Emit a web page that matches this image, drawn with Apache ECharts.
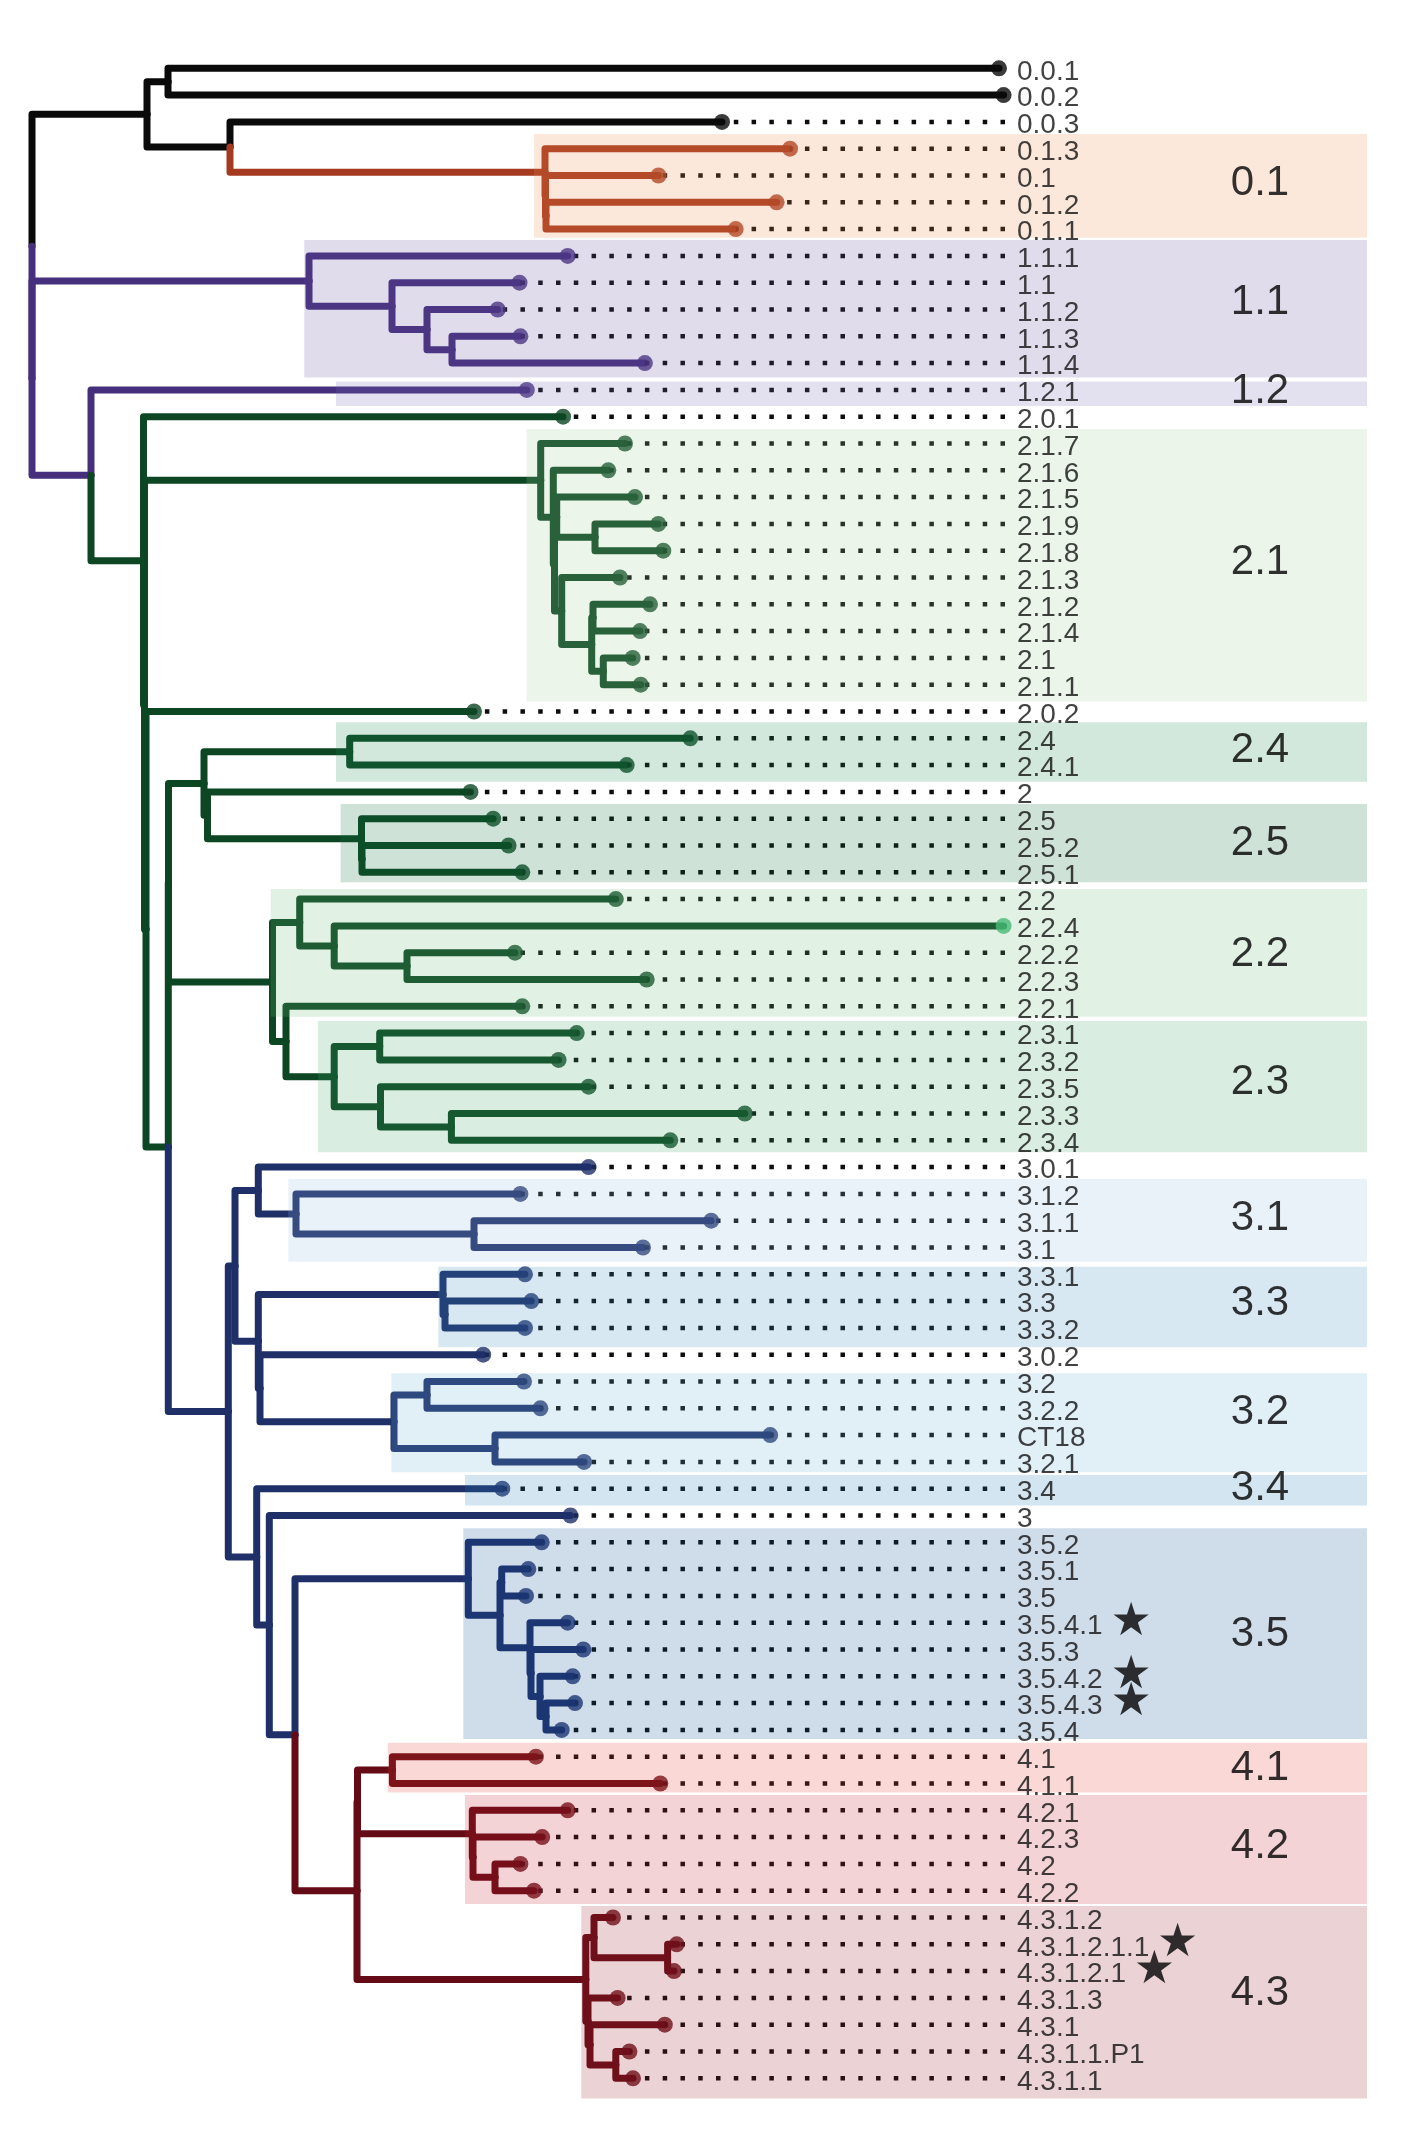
<!DOCTYPE html>
<html><head><meta charset="utf-8">
<script src="https://cdn.jsdelivr.net/npm/echarts@6/dist/echarts.min.js"></script>
<style>html,body{margin:0;padding:0;background:#fff}#c{width:1423px;height:2141px}</style>
</head><body><div id="c"></div>
<script>
// ---------- DATA ----------
const leafNames = ['0.0.1','0.0.2','0.0.3','0.1.3','0.1','0.1.2','0.1.1','1.1.1','1.1','1.1.2','1.1.3','1.1.4','1.2.1','2.0.1','2.1.7','2.1.6','2.1.5','2.1.9','2.1.8','2.1.3','2.1.2','2.1.4','2.1','2.1.1','2.0.2','2.4','2.4.1','2','2.5','2.5.2','2.5.1','2.2','2.2.4','2.2.2','2.2.3','2.2.1','2.3.1','2.3.2','2.3.5','2.3.3','2.3.4','3.0.1','3.1.2','3.1.1','3.1','3.3.1','3.3','3.3.2','3.0.2','3.2','3.2.2','CT18','3.2.1','3.4','3','3.5.2','3.5.1','3.5','3.5.4.1','3.5.3','3.5.4.2','3.5.4.3','3.5.4','4.1','4.1.1','4.2.1','4.2.3','4.2','4.2.2','4.3.1.2','4.3.1.2.1.1','4.3.1.2.1','4.3.1.3','4.3.1','4.3.1.1.P1','4.3.1.1'];
// tip depth (distance from root, chart units)
const tipDepth = [967,971.6,690,758,626.5,744.6,703.7,535.7,487.5,465.7,488.4,612.9,494.8,531.1,593,576.3,603,626.3,631.3,588,618,608,600.7,608.7,442,658.3,594.7,438.5,461.2,476.6,490.3,583.8,971.6,483,614.7,490.3,544.7,526.6,556.6,712.8,638.3,556.6,488.4,679.2,611,493,499.3,493,451.2,492,508.4,738.2,552,470.3,538.4,509.7,496.3,494,535.7,551.3,540.7,543,529.7,503.9,628.3,535.7,510.2,488.4,502,581,644.7,642,585.6,632.8,597.4,601];
// topology (newick-like; number after ")" = depth of that internal node)
const tree0 = "((0.0.1,0.0.2)136,(0.0.3,(0.1.3,(0.1,(0.1.2,0.1.1)514)513.5)513)198)115";
const tree11 = "(1.1.1,(1.1,(1.1.2,(1.1.3,1.1.4)420)395)360)277";
const tree21 = "(2.1.7,(2.1.6,((2.1.5,(2.1.9,2.1.8)563)524.7,(2.1.3,((2.1.2,2.1.4)561,(2.1,2.1.1)571.3)559.7)529.7)522.5)521.3)508.7";
const tree24_25 = "((2.4,2.4.1)317.7,(2,(2.5,(2.5.2,2.5.1)330)329.5)175.5)172";
const tree22_23 = "((2.2,(2.2.4,(2.2.2,2.2.3)375)302.2)267.7,(2.2.1,((2.3.1,2.3.2)347.7,(2.3.5,(2.3.3,2.3.4)419.4)348.5)302.2)254)240.5";
const tree3a = "((3.0.1,(3.1.2,(3.1.1,3.1)442)264)226.3,((3.3.1,(3.3,3.3.2)413)411,(3.0.2,((3.2,3.2.2)395,(CT18,3.2.1)463)362)228)226.3)203";
const tree35 = "(3.5.2,((3.5.1,3.5)469.7,(3.5.4.1,(3.5.3,(3.5.4.2,(3.5.4.3,3.5.4)514)508)499)498)468)436.3";
const tree4 = "(((4.1,4.1.1)360.4,(4.2.1,(4.2.3,(4.2,4.2.2)463)441)440.3)325.5,((4.3.1.2,(4.3.1.2.1.1,4.3.1.2.1)635.6)562,(4.3.1.3,(4.3.1,(4.3.1.1.P1,4.3.1.1)583.8)558)556)553.8)325";
const treeBackbone = "({t0},({t11},(1.2.1,(2.0.1,({t21},(2.0.2,(({t24_25},{t22_23})136.5,({t3a},(3.4,(3,({t35},{t4})263)237.3)224.7)196.3)136.3)114)112.5)111.5)59)0)0";

const lineageColors = ['#0a0a0a','#a53a20','#46307d','#0c4623','#1f3069','#650b15'];
const specialTips = ['2.2.4'];
const specialTipColor = '#3dba79';
const starLeaves = ['3.5.4.1','3.5.4.2','3.5.4.3','4.3.1.2.1.1','4.3.1.2.1'];

const cladeNames  = ['0.1','1.1','1.2','2.1','2.4','2.5','2.2','2.3','3.1','3.3','3.2','3.4','3.5','4.1','4.2','4.3'];
const cladeStart  = [502,272.3,304,494.5,304,308.6,238.7,285.9,256.3,406.3,359.3,433,431.3,355.8,433,549.3];
const cladeTop    = [2.45,6.41,11.69,13.46,24.40,27.45,30.62,35.55,41.44,44.72,48.69,52.49,54.48,62.48,64.43,68.57];
const cladeBottom = [6.32,11.54,12.60,23.63,26.62,30.37,35.39,40.45,44.53,47.72,52.39,53.63,62.34,64.34,68.50,75.75];
const cladeLabelY = [4.3,8.72,12.07,18.44,25.47,28.92,33.08,37.85,42.92,46.1,50.15,53.0,58.43,63.45,66.33,71.85];
const cladeFill = ['rgba(240,140,75,0.2)','rgba(100,80,160,0.2)','rgba(115,105,175,0.2)','rgba(155,205,150,0.2)',
  'rgba(30,140,80,0.2)','rgba(15,110,60,0.2)','rgba(105,185,115,0.2)','rgba(65,165,100,0.2)',
  'rgba(150,190,225,0.2)','rgba(60,140,190,0.2)','rgba(105,175,215,0.2)','rgba(35,125,180,0.2)',
  'rgba(15,80,150,0.2)','rgba(225,60,45,0.2)','rgba(195,35,50,0.2)','rgba(155,35,45,0.2)'];

const alignDepth = 971;     // where dotted leader lines end
const labelDepth = 985;     // tip label start
const boxRight = 1335;      // right edge of clade boxes
const cladeLabelDepth = 1228;

// ---------- TREE ----------
const newick = treeBackbone.replace('{t0}',tree0).replace('{t11}',tree11).replace('{t21}',tree21)
  .replace('{t24_25}',tree24_25).replace('{t22_23}',tree22_23).replace('{t3a}',tree3a)
  .replace('{t35}',tree35).replace('{t4}',tree4);

function groupOf(name){
  if (name.startsWith('0.0')) return 0;
  if (name.startsWith('0.1')) return 1;
  if (name.startsWith('1')) return 2;
  if (name.startsWith('2')) return 3;
  if (name.startsWith('3') || name==='CT18') return 4;
  return 5;
}
function parseNewick(s){
  let i=0;
  function node(){
    if (s[i]==='('){
      i++;
      const children=[];
      while(true){
        children.push(node());
        if (s[i]===','){i++;continue;}
        if (s[i]===')'){i++;break;}
        throw new Error('bad newick at '+i);
      }
      let j=i; while(i<s.length && /[0-9.]/.test(s[i])) i++;
      return {children, depth:parseFloat(s.slice(j,i))};
    }
    let j=i; while(i<s.length && s[i]!==',' && s[i]!==')') i++;
    const name=s.slice(j,i);
    const idx=leafNames.indexOf(name);
    if(idx<0) throw new Error('unknown leaf '+name);
    return {name, idx, depth:tipDepth[idx]};
  }
  return node();
}
const root = parseNewick(newick);
function layout(n){
  if(n.children){
    n.children.forEach(layout);
    n.y = n.children.reduce((a,c)=>a+c.y,0)/n.children.length;
    n.group = n.children[0].group;
  } else { n.y = n.idx; n.group = groupOf(n.name); }
}
layout(root);
const edges=[];
(function walk(n){ if(!n.children) return; n.children.forEach(c=>{ edges.push([n.depth,n.y,c.depth,c.y,c.group]); walk(c); }); })(root);

const tipData = leafNames.map((nm,i)=>({name:nm, value:[tipDepth[i], i],
  itemStyle:{color: specialTips.includes(nm) ? specialTipColor : lineageColors[groupOf(nm)]}}));
const leaderData = leafNames.map((nm,i)=>[alignDepth, i, tipDepth[i]]).filter(d=>d[2] < d[0]-8);
const labelData = leafNames.map((nm,i)=>({name:nm, value:[labelDepth, i]}));
const boxData = cladeNames.map((nm,k)=>[cladeStart[k], cladeTop[k], boxRight, cladeBottom[k], k]);
const cladeLabelData = cladeNames.map((nm,k)=>({name:nm, value:[cladeLabelDepth, cladeLabelY[k]]}));

// ---------- CHART ----------
const chart = echarts.init(document.getElementById('c'), null, {renderer:'canvas'});
const FONT = "'Liberation Sans', Arial, Helvetica, sans-serif";
chart.setOption({
  animation:false,
  backgroundColor:'#ffffff',
  grid:{left:32, right:0, top:41.5, bottom:35.9},
  xAxis:{type:'value', min:0, max:1391, show:false},
  yAxis:{type:'value', min:-1, max:76, inverse:true, show:false},
  series:[
    { type:'custom', z:1, data:edges, clip:false, silent:true,
      renderItem:(p,api)=>{
        const a=api.coord([api.value(0),api.value(1)]), b=api.coord([api.value(0),api.value(3)]), c=api.coord([api.value(2),api.value(3)]);
        return {type:'polyline', shape:{points:[a,b,c]},
          style:{stroke:lineageColors[api.value(4)], lineWidth:7, fill:null, lineJoin:'round', lineCap:'round'}};
      }},
    { type:'custom', z:2, data:leaderData, clip:false, silent:true,
      renderItem:(p,api)=>{
        const a=api.coord([api.value(0),api.value(1)]), b=api.coord([api.value(2),api.value(1)]);
        return {type:'line', shape:{x1:a[0]+2,y1:a[1],x2:b[0],y2:b[1]},
          style:{stroke:'#0d0d0d', lineWidth:4.5, lineDash:[4.5,13.28], lineCap:'butt'}};
      }},
    { type:'scatter', z:3, data:tipData, symbol:'circle', symbolSize:16, silent:true },
    { type:'custom', z:4, data:boxData, clip:false, silent:true,
      renderItem:(p,api)=>{
        const a=api.coord([api.value(0),api.value(1)]), b=api.coord([api.value(2),api.value(3)]);
        return {type:'rect', shape:{x:a[0],y:a[1],width:b[0]-a[0],height:b[1]-a[1]},
          style:{fill:cladeFill[api.value(4)]}};
      }},
    { type:'scatter', z:5, data:labelData, symbolSize:0, silent:true,
      label:{show:true, position:'right', distance:0,
        formatter:p=> starLeaves.includes(p.name) ? '{n|'+p.name+' }{s|★}' : '{n|'+p.name+'}',
        rich:{ n:{fontSize:28, fontFamily:FONT, color:'#111', verticalAlign:'middle', padding:[7,0,0,0]},
               s:{fontSize:46, fontFamily:"'DejaVu Sans'", color:'#000', verticalAlign:'middle'} } } },
    { type:'scatter', z:5, data:cladeLabelData, symbolSize:0, silent:true,
      label:{show:true, position:'inside', fontSize:42, fontFamily:FONT, color:'#000',
        formatter:p=>p.name} }
  ]
});
</script></body></html>
